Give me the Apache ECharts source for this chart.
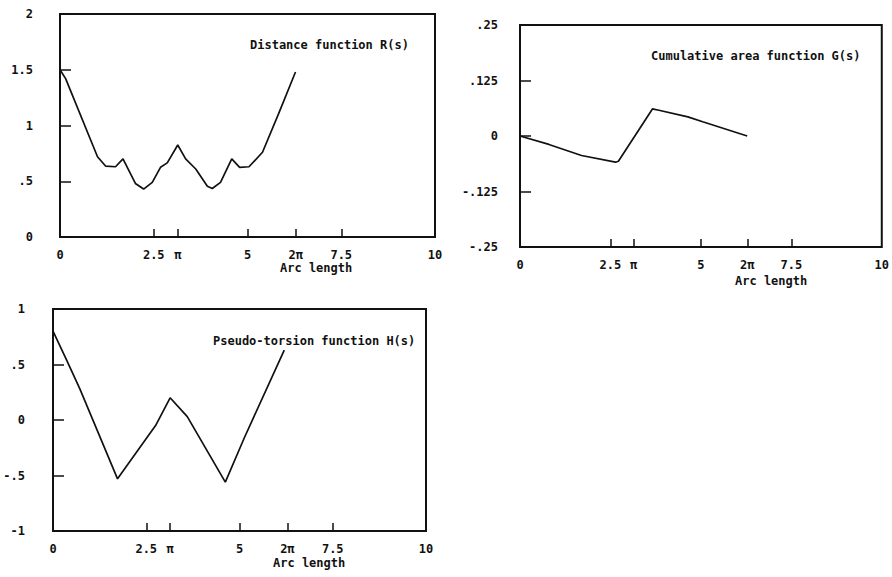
<!DOCTYPE html>
<html>
<head>
<meta charset="utf-8">
<script src="https://cdn.jsdelivr.net/npm/echarts@6/dist/echarts.min.js"></script>
<style>
html,body{margin:0;padding:0;background:#fff;}
#c{width:892px;height:577px;}
</style>
</head>
<body>
<div id="c"></div>
<script>
// ---- data ----
const rArc  = [0, 0.15, 1.0, 1.22, 1.48, 1.68, 2.01, 2.23, 2.46, 2.68, 2.86, 3.14, 3.35, 3.62, 3.93, 4.06, 4.28, 4.58, 4.79, 5.04, 5.4, 5.83, 6.28];
const rDist = [1.5, 1.42, 0.72, 0.635, 0.63, 0.70, 0.48, 0.43, 0.49, 0.625, 0.665, 0.825, 0.70, 0.61, 0.455, 0.435, 0.49, 0.70, 0.625, 0.63, 0.76, 1.106, 1.48];

const gArc  = [0, 0.8, 1.7, 2.64, 2.72, 3.66, 3.84, 4.64, 5.05, 6.28];
const gArea = [0, -0.019, -0.044, -0.059, -0.057, 0.061, 0.058, 0.043, 0.032, 0.0];

const hArc     = [0, 0.35, 0.72, 1.73, 2.75, 3.14, 3.6, 4.62, 5.13, 6.2];
const hTorsion = [0.8, 0.55, 0.28, -0.53, -0.05, 0.2, 0.03, -0.56, -0.16, 0.63];

const xTickValues = [2.5, Math.PI, 5, 2 * Math.PI, 7.5];
const xLabelValues = [0, 2.5, Math.PI, 5, 2 * Math.PI, 7.5, 10];
const xLabelTexts  = ['0', '2.5', 'π', '5', '2π', '7.5', '10'];

const yLabelsR = ['0', '.5', '1', '1.5', '2'];
const yLabelsG = ['-.25', '-.125', '0', '.125', '.25'];
const yLabelsH = ['-1', '-.5', '0', '.5', '1'];

const titles = ['Distance function R(s)', 'Cumulative area function G(s)', 'Pseudo-torsion function H(s)'];
const xName = 'Arc length';

// ---- chart ----
const FONT = '"DejaVu Sans Mono", monospace';
const zip = (a, b) => a.map((v, i) => [v, b[i]]);

const grids = [
  {left: 60, top: 14, width: 375, height: 223},
  {left: 520, top: 25, width: 368, height: 222},
  {left: 53, top: 309, width: 373, height: 222}
];
const yCfg = [
  {min: 0, max: 2, interval: 0.5, labels: yLabelsR, margin: 27},
  {min: -0.25, max: 0.25, interval: 0.125, labels: yLabelsG, margin: 22},
  {min: -1, max: 1, interval: 0.5, labels: yLabelsH, margin: 28}
];

const option = {
  backgroundColor: '#fff',
  animation: false,
  title: [
    {text: titles[0], left: 250, top: 39},
    {text: titles[1], left: 651, top: 50},
    {text: titles[2], left: 213, top: 335}
  ].map(t => Object.assign(t, {textStyle: {fontFamily: FONT, fontSize: 12, fontWeight: 'bold', color: '#111'}, padding: 0})),
  graphic: [
    {type: 'text', left: 280, top: 262, style: {text: xName, font: 'bold 12px ' + FONT, fill: '#111'}},
    {type: 'text', left: 735, top: 275, style: {text: xName, font: 'bold 12px ' + FONT, fill: '#111'}},
    {type: 'text', left: 273, top: 557, style: {text: xName, font: 'bold 12px ' + FONT, fill: '#111'}}
  ],
  grid: grids.map(g => Object.assign({show: true, borderColor: '#111', borderWidth: 2, backgroundColor: 'transparent', containLabel: false}, g)),
  xAxis: grids.map((g, i) => ({
    type: 'value', gridIndex: i, min: 0, max: 10,
    axisLine: {show: false, onZero: false},
    splitLine: {show: false},
    axisTick: {show: true, inside: true, length: 8, customValues: xTickValues, lineStyle: {color: '#111', width: 1.5}},
    axisLabel: {
      customValues: xLabelValues,
      formatter: v => { const k = xLabelValues.findIndex(x => Math.abs(x - v) < 1e-6); return k >= 0 ? xLabelTexts[k] : ''; },
      margin: 12, fontFamily: FONT, fontSize: 12, fontWeight: 'bold', color: '#111'
    }
  })),
  yAxis: yCfg.map((c, i) => ({
    type: 'value', gridIndex: i, min: c.min, max: c.max, interval: c.interval,
    axisLine: {show: false, onZero: false},
    splitLine: {show: false},
    axisTick: {show: true, inside: true, length: 11, lineStyle: {color: '#111', width: 1.5}},
    axisLabel: {
      formatter: v => c.labels[Math.round((v - c.min) / c.interval)],
      margin: c.margin, fontFamily: FONT, fontSize: 12, fontWeight: 'bold', color: '#111'
    }
  })),
  series: [
    {type: 'line', xAxisIndex: 0, yAxisIndex: 0, data: zip(rArc, rDist)},
    {type: 'line', xAxisIndex: 1, yAxisIndex: 1, data: zip(gArc, gArea)},
    {type: 'line', xAxisIndex: 2, yAxisIndex: 2, data: zip(hArc, hTorsion)}
  ].map(s => Object.assign(s, {showSymbol: false, symbol: 'none', lineStyle: {color: '#111', width: 1.7}}))
};

const chart = echarts.init(document.getElementById('c'), null, {renderer: 'svg'});
chart.setOption(option);
</script>
</body>
</html>
